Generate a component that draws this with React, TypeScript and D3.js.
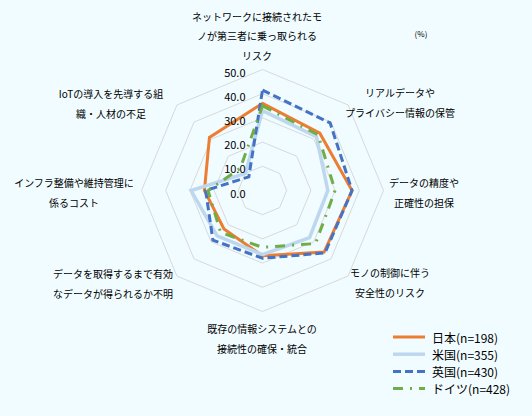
import * as d3 from "d3";

const categories = [
  ["ネットワークに接続されたモ", "ノが第三者に乗っ取られる", "リスク"],
  ["リアルデータや", "プライバシー情報の保管"],
  ["データの精度や", "正確性の担保"],
  ["モノの制御に伴う", "安全性のリスク"],
  ["既存の情報システムとの", "接続性の確保・統合"],
  ["データを取得するまで有効", "なデータが得られるか不明"],
  ["インフラ整備や維持管理に", "係るコスト"],
  ["IoTの導入を先導する組", "織・人材の不足"],
];

const japan = [36, 33.5, 37, 36, 27, 22.5, 24, 31];
const usa = [33, 31.5, 27, 27.5, 26.5, 26.5, 29.5, 10];
const uk = [41.5, 39.5, 37, 36.5, 28, 29, 23.5, 8];
const germany = [35, 32.5, 30, 31, 23.5, 24.5, 22.5, 13];

const seriesNames = ["日本(n=198)", "米国(n=355)", "英国(n=430)", "ドイツ(n=428)"];
const ticks = [0, 10, 20, 30, 40, 50];

// label anchor points (center of text block) per category
const labelPos: [number, number][] = [
  [257, 16],
  [400, 92],
  [424, 182],
  [390, 272],
  [262, 328],
  [113, 273],
  [74, 182],
  [111, 93],
];

const App: React.FC = () => {
  const width = 532;
  const height = 416;
  const cx = 262.5;
  const cy = 190.5;
  const radius = 121;
  const font = "'Noto Sans CJK JP', 'Noto Sans', sans-serif";

  const r = d3.scaleLinear([0, 50], [0, radius]);
  const angle = d3.scaleLinear([0, categories.length], [0, 2 * Math.PI]);
  const radial = d3.lineRadial<number>()
    .angle((_, i) => angle(i))
    .radius((d) => r(d))
    .curve(d3.curveLinearClosed);

  const series = [
    { name: seriesNames[0], data: japan, color: "#ED7D31", width: 3, dash: undefined },
    { name: seriesNames[1], data: usa, color: "#BDD7EE", width: 3.5, dash: undefined },
    { name: seriesNames[2], data: uk, color: "#4472C4", width: 3, dash: "8,4" },
    { name: seriesNames[3], data: germany, color: "#70AD47", width: 3, dash: "10,7,2,7" },
  ];

  const ring = (v: number) => radial(categories.map(() => v)) ?? undefined;

  return (
    <svg width={width} height={height} style={{ position: "absolute", left: 0, top: 0 }} fontFamily={font}>
      <rect width={width} height={height} fill="#F0FCFF" />
      <g transform={`translate(${cx},${cy})`}>
        {ticks.slice(1).map((t) => (
          <path key={t} d={ring(t)} fill="none" stroke="#D9D9D9" strokeWidth={1} />
        ))}
        {series.map((s) => (
          <path key={s.name} d={radial(s.data) ?? undefined} fill="none" stroke={s.color}
            strokeWidth={s.width} strokeDasharray={s.dash} strokeLinejoin="miter" />
        ))}
        {ticks.map((t) => (
          <text key={t} x={-17} y={-r(t) + 2} textAnchor="end" dominantBaseline="central"
            fontSize={11} fill="#000">{t.toFixed(1)}</text>
        ))}
      </g>
      {categories.map((lines, i) => {
        const [lx, ly] = labelPos[i];
        const step = lines.length === 3 ? 19.5 : 20;
        return (
          <text key={i} textAnchor="middle" fontSize={10} fill="#000">
            {lines.map((ln, j) => (
              <tspan key={j} x={lx} y={ly + j * step} dominantBaseline="central">{ln}</tspan>
            ))}
          </text>
        );
      })}
      <text x={421} y={33} textAnchor="middle" dominantBaseline="central" fontSize={8}>(%)</text>
      <g transform="translate(393,337)">
        {series.map((s, i) => (
          <g key={s.name} transform={`translate(0,${i * 17.2})`}>
            <line x1={0} x2={32} y1={0} y2={0} stroke={s.color} strokeWidth={s.width}
              strokeDasharray={s.dash} />
            <text x={39} y={0} dominantBaseline="central" fontSize={12}>{s.name}</text>
          </g>
        ))}
      </g>
    </svg>
  );
};

export default App;
